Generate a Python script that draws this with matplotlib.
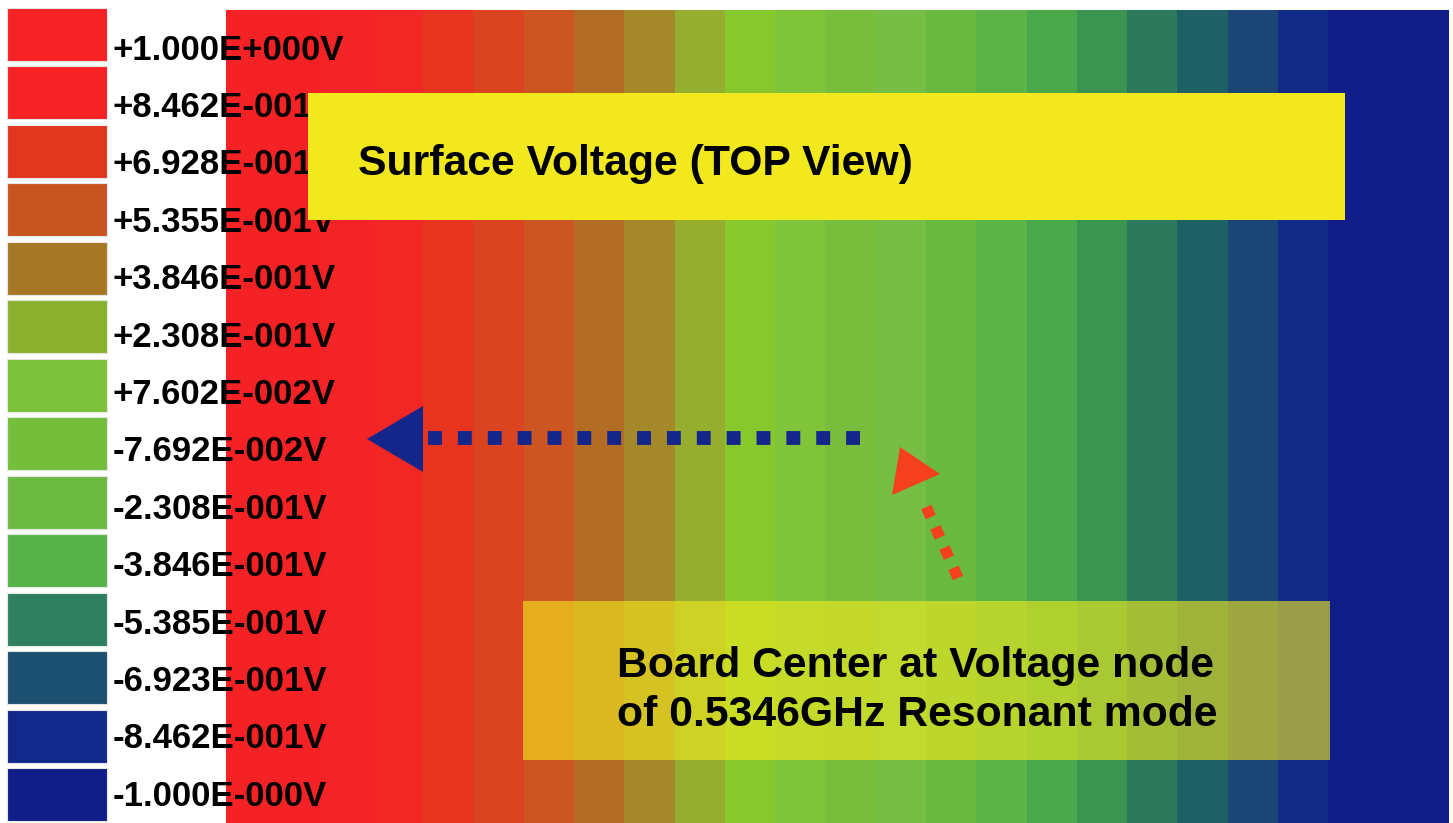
import numpy as np
import matplotlib
matplotlib.use("Agg")
import matplotlib.pyplot as plt
from matplotlib.patches import Rectangle, Polygon

plt.rcParams["font.family"] = ["Liberation Sans", "DejaVu Sans"]

W, H = 1453, 823

# colour of each vertical band of the surface field, left -> right
BAND_COLORS = ["#F52225", "#F52225", "#F42325", "#F22624", "#E6341F",
               "#DB4420", "#CC5521", "#B36C24", "#A4892A", "#96AE2F",
               "#87C92C", "#80C43A", "#78BE3C", "#76BF44", "#69B940",
               "#5CB446", "#4BA84A", "#3B9450", "#2C795C", "#1F6064",
               "#1A4575", "#122B86", "#111E88", "#111E88", "#111E88"]

# colour legend (voltage levels)
LEVEL_LABELS = ["+1.000E+000V", "+8.462E-001V", "+6.928E-001V", "+5.355E-001V",
                "+3.846E-001V", "+2.308E-001V", "+7.602E-002V", "-7.692E-002V",
                "-2.308E-001V", "-3.846E-001V", "-5.385E-001V", "-6.923E-001V",
                "-8.462E-001V", "-1.000E-000V"]
LEVEL_COLORS = ["#F52226", "#F52226", "#E3361F", "#C85520", "#A67826",
                "#8AB02E", "#7CC23A", "#74BE3C", "#6CBA42", "#58B24A",
                "#2F8060", "#1B5070", "#12288A", "#111E88"]

TITLE = "Surface Voltage (TOP View)"
NOTE = "Board Center at Voltage node\nof 0.5346GHz Resonant mode"

NAVY = "#15268A"
ORANGE_RED = "#F5401E"
YELLOW = "#F2E81E"


def main():
    fig = plt.figure(figsize=(W / 100, H / 100), dpi=100)

    # field: one bar per band, ~50 px wide
    ax = fig.add_axes([226 / W, 0, (1449 - 226) / W, 813 / H])
    xb = np.arange(len(BAND_COLORS))
    ax.bar(xb, 1, width=1, align="edge", color=BAND_COLORS, linewidth=0)
    ax.set_xlim(0.08, 24.4)
    ax.set_ylim(0, 1)
    ax.axis("off")

    # overlay in pixel coords for legend + annotations
    ov = fig.add_axes([0, 0, 1, 1])
    ov.set_xlim(0, W); ov.set_ylim(H, 0)
    ov.axis("off"); ov.patch.set_alpha(0)

    n = len(LEVEL_LABELS)
    idx = np.arange(n)
    ov.barh(34.5 + 58.46 * idx, 100, left=7, height=53, color=LEVEL_COLORS,
            edgecolor="#e6e6e6", linewidth=0.8, zorder=2)
    for i, lab in enumerate(LEVEL_LABELS):
        ov.text(113, 47 + 57.4 * i + 12.5, lab, fontsize=25, fontweight="bold",
                ha="left", va="baseline", color="black", zorder=3)

    # title box
    ov.add_patch(Rectangle((308, 93), 1037, 127, fc=YELLOW, ec="none", zorder=4))
    ov.text(358, 175, TITLE, fontsize=30.8, fontweight="bold",
            ha="left", va="baseline", zorder=5)

    # note box (translucent)
    ov.add_patch(Rectangle((523, 601), 807, 159, fc="#F5EB1E", ec="none",
                           alpha=0.6, zorder=4))
    # baseline of the last line
    ov.text(617, 726, NOTE, fontsize=30.8, fontweight="bold", linespacing=1.28,
            ha="left", va="baseline", zorder=5)

    # blue dotted arrow -> left
    ov.plot([860, 426], [438, 438], color=NAVY, lw=10, ls=(0, (1, 1.15)),
            dash_capstyle="butt", solid_capstyle="butt", zorder=5)
    ov.add_patch(Polygon([(367, 439), (423, 406), (423, 472)], closed=True,
                         fc=NAVY, ec="none", zorder=5))

    # red dotted arrow -> up
    ov.plot([958, 924], [578, 502], color=ORANGE_RED, lw=8, ls=(0, (1, 1)),
            dash_capstyle="butt", solid_capstyle="butt", zorder=5)
    ov.add_patch(Polygon([(900, 447), (892, 495), (940, 474)], closed=True,
                         fc=ORANGE_RED, ec="none", zorder=5))

    fig.savefig("out.png", dpi=100)
    plt.close(fig)


if __name__ == "__main__":
    main()
